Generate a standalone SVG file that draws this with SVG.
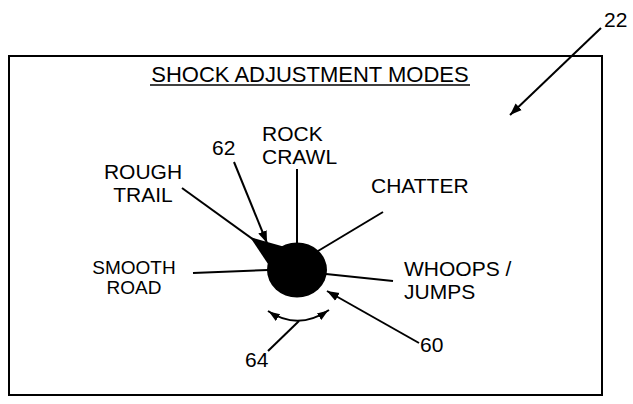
<svg xmlns="http://www.w3.org/2000/svg" width="633" height="404" viewBox="0 0 633 404">
<style>
text{font-family:"Liberation Sans",Arial,sans-serif;fill:#000}
.lbl{font-size:21px}
.sm{font-size:19px}
.ln{stroke:#000;stroke-width:2;fill:none}
</style>
<defs>
<marker id="ah" markerUnits="userSpaceOnUse" markerWidth="14" markerHeight="10" refX="12" refY="5" orient="auto">
<path d="M0,0.5 L12,5 L0,9.5 Z" fill="#000"/>
</marker>
<marker id="ahs" markerUnits="userSpaceOnUse" markerWidth="14" markerHeight="10" refX="12" refY="5" orient="auto-start-reverse">
<path d="M0,1 L11,5 L0,9 Z" fill="#000"/>
</marker>
</defs>
<rect width="633" height="404" fill="#fff"/>
<g id="panel">
<rect x="9" y="56" width="593" height="339" fill="none" stroke="#000" stroke-width="2"/>
<text x="310" y="82" font-size="22" text-anchor="middle">SHOCK ADJUSTMENT MODES</text>
<line x1="150" y1="85" x2="470" y2="85" stroke="#000" stroke-width="1.5"/>
</g>
<g id="knob">
<ellipse cx="297" cy="270" rx="30" ry="27.5" fill="#000"/>
<polygon points="250,237 285,247 268,264" fill="#000"/>
</g>
<g id="connectors">
<line class="ln" x1="182" y1="188" x2="258" y2="243"/>
<line class="ln" x1="297" y1="169" x2="297" y2="244"/>
<line class="ln" x1="318" y1="251" x2="383" y2="212"/>
<line class="ln" x1="193" y1="273" x2="268" y2="270"/>
<line class="ln" x1="326" y1="274" x2="393" y2="281"/>
<line class="ln" x1="234" y1="162" x2="267" y2="243" marker-end="url(#ah)"/>
<line class="ln" x1="419" y1="343" x2="327" y2="291" marker-end="url(#ah)"/>
<line class="ln" x1="601" y1="28" x2="510" y2="115" marker-end="url(#ah)"/>
<path class="ln" d="M268,311 Q298,331 329,310" marker-start="url(#ahs)" marker-end="url(#ahs)"/>
<line class="ln" x1="299" y1="321" x2="268" y2="351"/>
</g>
<g id="rough-trail">
<text class="lbl" x="143" y="179" text-anchor="middle">ROUGH</text>
<text class="lbl" x="143" y="202" text-anchor="middle">TRAIL</text>
</g>
<g id="rock-crawl">
<text class="lbl" x="262" y="141">ROCK</text>
<text class="lbl" x="262" y="164">CRAWL</text>
</g>
<g id="chatter">
<text class="lbl" x="371" y="193">CHATTER</text>
</g>
<g id="smooth-road">
<text class="sm" x="134" y="274" text-anchor="middle">SMOOTH</text>
<text class="sm" x="134" y="294" text-anchor="middle">ROAD</text>
</g>
<g id="whoops-jumps">
<text class="lbl" x="404" y="276">WHOOPS /</text>
<text class="lbl" x="404" y="299">JUMPS</text>
</g>
<g id="ref-62"><text class="lbl" x="212" y="155">62</text></g>
<g id="ref-60"><text class="lbl" x="420" y="352">60</text></g>
<g id="ref-64"><text class="lbl" x="245" y="367">64</text></g>
<g id="ref-22"><text class="lbl" x="604" y="27">22</text></g>
</svg>
